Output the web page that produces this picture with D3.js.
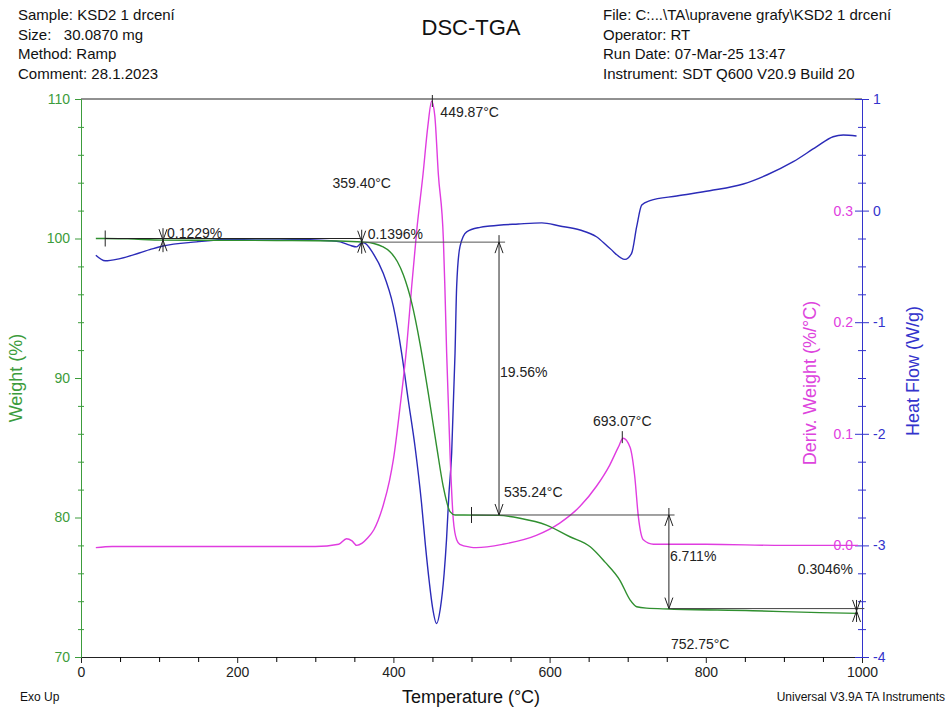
<!DOCTYPE html>
<html>
<head>
<meta charset="utf-8">
<script src="https://cdn.jsdelivr.net/npm/d3@7"></script>
<style>
  body { margin: 0; background: #fff; }
  text { font-family: Arial, "Liberation Sans", sans-serif; }
</style>
</head>
<body>
<div id="chart"></div>
<script>
// header texts
const headerLeft = ["Sample: KSD2 1 drcení", "Size:   30.0870 mg", "Method: Ramp", "Comment: 28.1.2023"];
const headerRight = ["File: C:...\\TA\\upravene grafy\\KSD2 1 drcení", "Operator: RT", "Run Date: 07-Mar-25 13:47", "Instrument: SDT Q600 V20.9 Build 20"];

// weight (%) vs temperature
const weightTemp = [19, 31, 60, 105, 150, 250, 330, 359.4, 375, 386, 395.6, 405, 412.7, 423.4, 434, 444.7, 455.4, 463.9, 472.5, 479, 490, 535, 562, 596, 626, 652, 671, 690, 703, 711.5, 724, 754, 860, 946, 995];
const weightVal  = [100.0, 100.0, 99.97, 99.88, 99.87, 99.86, 99.82, 99.75, 99.64, 99.42, 99.05, 98.35, 97.4, 95.4, 92.49, 88.9, 85.08, 82.2, 80.42, 80.18, 80.18, 80.15, 79.95, 79.46, 78.62, 77.9, 76.8, 75.5, 74.1, 73.6, 73.5, 73.44, 73.32, 73.18, 73.13];

// deriv. weight (%/°C)
const derivTemp = [19, 40, 100, 200, 300, 330, 340, 347, 353, 360, 366, 375, 387, 395, 400, 408.5, 417, 423.4, 430, 438, 444, 449, 453, 457.5, 464, 466, 468.2, 472.5, 476.7, 481, 485, 498, 506, 540, 583, 613, 639, 660, 677, 688, 694, 703, 709, 713.6, 720, 733, 800, 900, 995];
const derivVal  = [-0.002, -0.001, -0.001, -0.001, -0.001, 0.001, 0.006, 0.004, 0.0, 0.002, 0.006, 0.014, 0.036, 0.058, 0.077, 0.124, 0.178, 0.232, 0.283, 0.333, 0.375, 0.398, 0.385, 0.333, 0.274, 0.229, 0.172, 0.0825, 0.023, 0.005, 0.001, -0.0015, -0.002, 0.001, 0.009, 0.02, 0.035, 0.053, 0.072, 0.088, 0.096, 0.088, 0.062, 0.026, 0.005, 0.001, 0.001, 0.0, 0.0];

// heat flow (W/g)
const heatTemp = [19, 31, 50, 88, 105, 148, 191, 255, 319, 332, 344, 353, 358, 362, 374, 387, 400, 410.6, 419, 427.7, 436, 441, 446, 450, 455.4, 460, 465, 468, 471, 474.6, 478.9, 481, 485.3, 493.8, 511, 523.7, 560, 590, 613, 639, 660, 677, 696.5, 705, 711.5, 718, 728.5, 762.7, 805, 848, 878, 912, 942, 963, 976, 993];
const heatVal  = [-0.40, -0.45, -0.43, -0.35, -0.317, -0.28, -0.257, -0.255, -0.27, -0.28, -0.31, -0.325, -0.295, -0.288, -0.383, -0.562, -0.861, -1.279, -1.697, -2.116, -2.62, -3.0, -3.33, -3.55, -3.70, -3.57, -3.25, -2.95, -2.55, -2.175, -1.28, -0.68, -0.32, -0.19, -0.15, -0.138, -0.12, -0.11, -0.138, -0.174, -0.234, -0.338, -0.437, -0.383, -0.144, 0.05, 0.089, 0.131, 0.178, 0.238, 0.319, 0.438, 0.573, 0.662, 0.677, 0.668];

// step analysis values
const stepOnsets = [105, 359.4];           // °C, small losses
const stepLosses = ["0.1229%", "0.1396%"];
const mainStep = { temp: 535.24, top: 99.74, bottom: 80.18, label: "19.56%" };
const secondStep = { temp: 752.75, top: 80.18, bottom: 73.47, label: "6.711%" };
const endLoss = { temp: 993, label: "0.3046%" };
const peakTemps = [449.87, 693.07];

const width = 951, height = 711;
const green = "#2f8f2f", greenTxt = "#3c9c3c";
const magenta = "#e03ce0", blue = "#2b2bb8";

const x = d3.scaleLinear().domain([0, 1000]).range([81, 862]);
const yW = d3.scaleLinear().domain([70, 110]).range([657, 99]);
const yH = d3.scaleLinear().domain([-4, 1]).range([657, 99]);
const yD = d3.scaleLinear().domain([-0.1, 0.4]).range([657, 99]);

const svg = d3.select("#chart").append("svg")
    .attr("width", width)
    .attr("height", height);

// header
svg.append("g").selectAll("text")
    .data(headerLeft).enter().append("text")
    .attr("x", 18).attr("y", (d, i) => 20 + i * 19.5)
    .attr("font-size", 15).attr("fill", "#111")
    .style("white-space", "pre")
    .text(d => d);
svg.append("g").selectAll("text")
    .data(headerRight).enter().append("text")
    .attr("x", 603).attr("y", (d, i) => 20 + i * 19.5)
    .attr("font-size", 15).attr("fill", "#111")
    .text(d => d);
svg.append("text")
    .attr("x", 471).attr("y", 35)
    .attr("text-anchor", "middle")
    .attr("font-size", 22).attr("fill", "#111")
    .text("DSC-TGA");

// frame top line
svg.append("line")
    .attr("x1", x(0)).attr("x2", x(1000))
    .attr("y1", yW(110)).attr("y2", yW(110))
    .attr("stroke", "#222");

// x axis
const xAxis = svg.append("g")
    .attr("transform", `translate(0,${yW(70)})`)
    .call(d3.axisBottom(x).tickValues(d3.range(0, 1001, 200)).tickSize(6).tickPadding(4).tickFormat(d => d));
svg.append("g")
    .attr("transform", `translate(0,${yW(70)})`)
    .call(d3.axisBottom(x).tickValues(d3.range(50, 1000, 50).filter(d => d % 200)).tickSize(5).tickFormat(""))
    .select(".domain").remove();
xAxis.selectAll("text").attr("font-size", 14).attr("fill", "#222");
xAxis.attr("color", "#222");

// weight axis (left)
const wAxis = svg.append("g")
    .attr("transform", `translate(${x(0)},0)`)
    .attr("color", greenTxt)
    .call(d3.axisLeft(yW).tickValues(d3.range(70, 111, 10)).tickSize(6).tickPadding(5));
wAxis.selectAll("text").attr("font-size", 14);
const wMinor = svg.append("g")
    .attr("transform", `translate(${x(0)},0)`)
    .attr("color", greenTxt)
    .call(d3.axisLeft(yW).tickValues(d3.range(72, 110, 2).filter(d => d % 10)).tickSize(3).tickFormat(""));
wMinor.select(".domain").remove();
wMinor.selectAll(".tick line").attr("x2", 3).attr("x1", -3);

// heat flow axis (right)
const hAxis = svg.append("g")
    .attr("transform", `translate(${x(1000)},0)`)
    .attr("color", "#3333cc")
    .call(d3.axisRight(yH).tickValues(d3.range(-4, 1.01, 1)).tickSize(7).tickPadding(4).tickFormat(d => String(d)));
hAxis.selectAll(".tick line").attr("x1", -7);
hAxis.selectAll("text").attr("font-size", 14);
const hMinor = svg.append("g")
    .attr("transform", `translate(${x(1000)},0)`)
    .attr("color", "#3333cc")
    .call(d3.axisRight(yH).tickValues(d3.range(-3.75, 1, 0.25).filter(d => d % 1 !== 0)).tickSize(4).tickFormat(""));
hMinor.select(".domain").remove();
hMinor.selectAll(".tick line").attr("x1", -4);

// deriv weight labels (inside right)
const dAxis = svg.append("g")
    .attr("transform", `translate(${x(1000)},0)`)
    .attr("color", magenta)
    .call(d3.axisLeft(yD).tickValues([0, 0.1, 0.2, 0.3]).tickSize(0).tickPadding(9).tickFormat(d3.format(".1f")));
dAxis.select(".domain").remove();
dAxis.selectAll("text").attr("font-size", 14);

// axis titles
svg.append("text")
    .attr("transform", `translate(22,${yW(90)}) rotate(-90)`)
    .attr("text-anchor", "middle").attr("font-size", 18).attr("fill", greenTxt)
    .text("Weight (%)");
svg.append("text")
    .attr("transform", `translate(816,${yD(0.15) + 5}) rotate(-90)`)
    .attr("text-anchor", "middle").attr("font-size", 18).attr("fill", "#dd44dd")
    .text("Deriv. Weight (%/°C)");
svg.append("text")
    .attr("transform", `translate(919,${yH(-1.5) - 7}) rotate(-90)`)
    .attr("text-anchor", "middle").attr("font-size", 18).attr("fill", "#3333cc")
    .text("Heat Flow (W/g)");
svg.append("text")
    .attr("x", 471).attr("y", 703)
    .attr("text-anchor", "middle").attr("font-size", 18).attr("fill", "#111")
    .text("Temperature (°C)");
svg.append("text")
    .attr("x", 20).attr("y", 701).attr("font-size", 12).attr("fill", "#111")
    .text("Exo Up");
svg.append("text")
    .attr("x", 945).attr("y", 701).attr("text-anchor", "end").attr("font-size", 12).attr("fill", "#111")
    .text("Universal V3.9A TA Instruments");

// curves
const curve = (xs, ys, yScale) => d3.line()
    .x((d, i) => x(xs[i]))
    .y(d => yScale(d))
    .curve(d3.curveMonotoneX)(ys);

svg.append("path").attr("d", curve(heatTemp, heatVal, yH))
    .attr("fill", "none").attr("stroke", blue).attr("stroke-width", 1.4);
svg.append("path").attr("d", curve(derivTemp, derivVal, yD))
    .attr("fill", "none").attr("stroke", magenta).attr("stroke-width", 1.4);
svg.append("path").attr("d", curve(weightTemp, weightVal, yW))
    .attr("fill", "none").attr("stroke", green).attr("stroke-width", 1.4);

// annotations
const ann = svg.append("g").attr("stroke", "#222").attr("fill", "none").attr("stroke-width", 1);
const hline = (t1, t2, w, col) => ann.append("line")
    .attr("x1", x(t1)).attr("x2", x(t2)).attr("y1", yW(w)).attr("y2", yW(w))
    .attr("stroke", col || "#222");
const vline = (t, y1, y2) => ann.append("line")
    .attr("x1", x(t)).attr("x2", x(t)).attr("y1", y1).attr("y2", y2);
const arrow = (t, y, dir) => ann.append("polyline")
    .attr("points", `${x(t) - 4},${y - dir * 11} ${x(t)},${y} ${x(t) + 4},${y - dir * 11}`);

hline(31, stepOnsets[1], 100.0);
vline(31, yW(100) - 8, yW(100) + 8);
hline(stepOnsets[1], 543, mainStep.top, "#555");
hline(500, 760, mainStep.bottom, "#444");
vline(500, yW(mainStep.bottom) - 8, yW(mainStep.bottom) + 8);
hline(secondStep.temp, 1003, secondStep.bottom, "#444");

// small step markers
stepOnsets.forEach((t, i) => {
    const yy = i === 0 ? yW(99.88) : yW(99.77);
    vline(t, yy - 12, yy + 12);
    arrow(t, yy, 1);
    arrow(t, yy, -1);
});
// end marker
{
    const yy = yW(73.3);
    vline(endLoss.temp, yy - 11, yy + 11);
    arrow(endLoss.temp, yy, 1);
    arrow(endLoss.temp, yy, -1);
}

// double arrows for the main steps
[mainStep, secondStep].forEach(s => {
    vline(s.temp, yW(s.top) - 7, yW(s.bottom));
    arrow(s.temp, yW(s.top), -1);
    arrow(s.temp, yW(s.bottom), 1);
});

// peak ticks
vline(peakTemps[0], yD(0.4) - 4, yD(0.4) + 8);
vline(peakTemps[1], yD(0.097) - 6, yD(0.097) + 6);

// annotation text
const label = (txt, px, py, anchor) => svg.append("text")
    .attr("x", px).attr("y", py)
    .attr("text-anchor", anchor || "start")
    .attr("font-size", 14).attr("fill", "#222")
    .text(txt);

label(stepLosses[0], x(stepOnsets[0]) + 4, yW(100) - 1);
label(stepLosses[1], x(stepOnsets[1]) + 6, yW(99.77) - 3);
label("359.40°C", x(359.4), 188, "middle");
label("449.87°C", x(peakTemps[0]) + 8, 117);
label(mainStep.label, x(mainStep.temp) + 1, 377);
label("535.24°C", x(mainStep.temp) + 5, yW(mainStep.bottom) - 18);
label("693.07°C", x(peakTemps[1]), yD(0.097) - 11, "middle");
label(secondStep.label, x(secondStep.temp) + 1, 561);
label(endLoss.label, x(1000) - 9, 574, "end");
label("752.75°C", x(secondStep.temp) + 2, 649);
</script>
</body>
</html>
